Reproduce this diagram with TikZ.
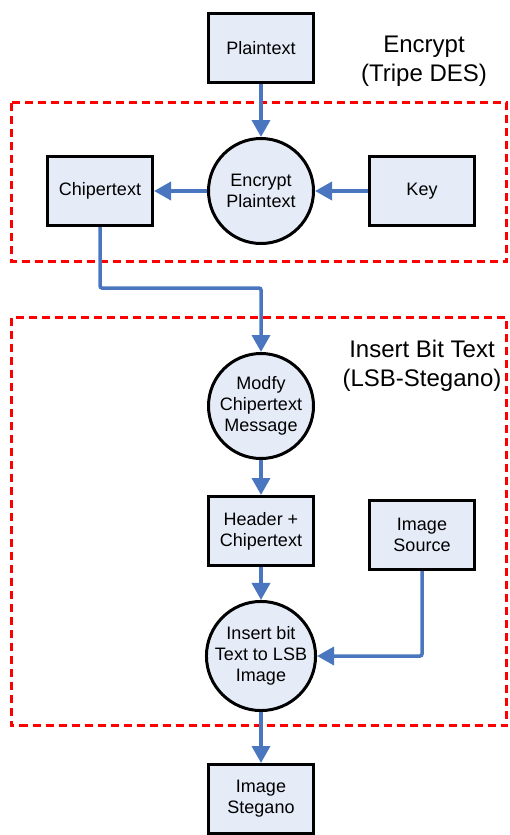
\documentclass[tikz,border=0pt]{standalone}
\usepackage{fontspec}
\setmainfont{Liberation Sans}
\usetikzlibrary{arrows.meta}

\definecolor{flowblue}{HTML}{4A76C0}
\definecolor{boxfill}{HTML}{E6ECF7}

\tikzset{
  databox/.style={draw,line width=3pt,fill=boxfill,minimum width=105pt,minimum height=69pt,
    align=center,font=\fontsize{18}{21}\selectfont},
  procnode/.style={draw,circle,line width=3pt,fill=boxfill,minimum size=105pt,inner sep=0pt,
    align=center,font=\fontsize{18}{21}\selectfont},
  flow/.style={draw=flowblue,line width=3.5pt,-{Triangle[width=18pt,length=17pt]}},
  region/.style={draw=red,line width=3pt,dash pattern=on 8pt off 5pt},
  regionlabel/.style={align=center,font=\fontsize{24}{29}\selectfont}
}

\begin{document}
\begin{tikzpicture}[x=1pt,y=-1pt]
\useasboundingbox (0,0) rectangle (510,835);

\draw[region] (11.5,102.5) rectangle (506.5,261.5);
\draw[region] (11.5,317.5) rectangle (506.5,725.5);

\node[regionlabel] (enclabel) at (424,61) {Encrypt\\(Tripe DES)};
\node[regionlabel] (lsblabel) at (422,366) {Insert Bit Text\\(LSB-Stegano)};

\node[databox] (plain) at (261,48) {Plaintext};
\node[procnode] (encrypt) at (261,191) {Encrypt\\Plaintext};
\node[databox] (chiper) at (100,191) {Chipertext};
\node[databox] (key) at (422,191) {Key};

\node[procnode] (modfy) at (261,406) {Modfy\\Chipertext\\Message};
\node[databox] (header) at (261,531) {Header +\\Chipertext};
\node[databox] (source) at (422,535) {Image\\Source};
\node[procnode] (insert) at (261,656) {Insert bit\\Text to LSB\\Image};
\node[databox] (stegano) at (261,799) {Image\\Stegano};

\coordinate (turn) at (100,288);

\draw[flow] (plain) -- (encrypt);
\draw[flow] (key) -- (encrypt);
\draw[flow] (encrypt) -- (chiper);
\draw[flow,rounded corners=2pt] (chiper) -- (turn) -| (modfy);
\draw[flow] (modfy) -- (header);
\draw[flow] (header) -- (insert);
\draw[flow,rounded corners=2pt] (source) |- (insert);
\draw[flow] (insert) -- (stegano);

\end{tikzpicture}
\end{document}
